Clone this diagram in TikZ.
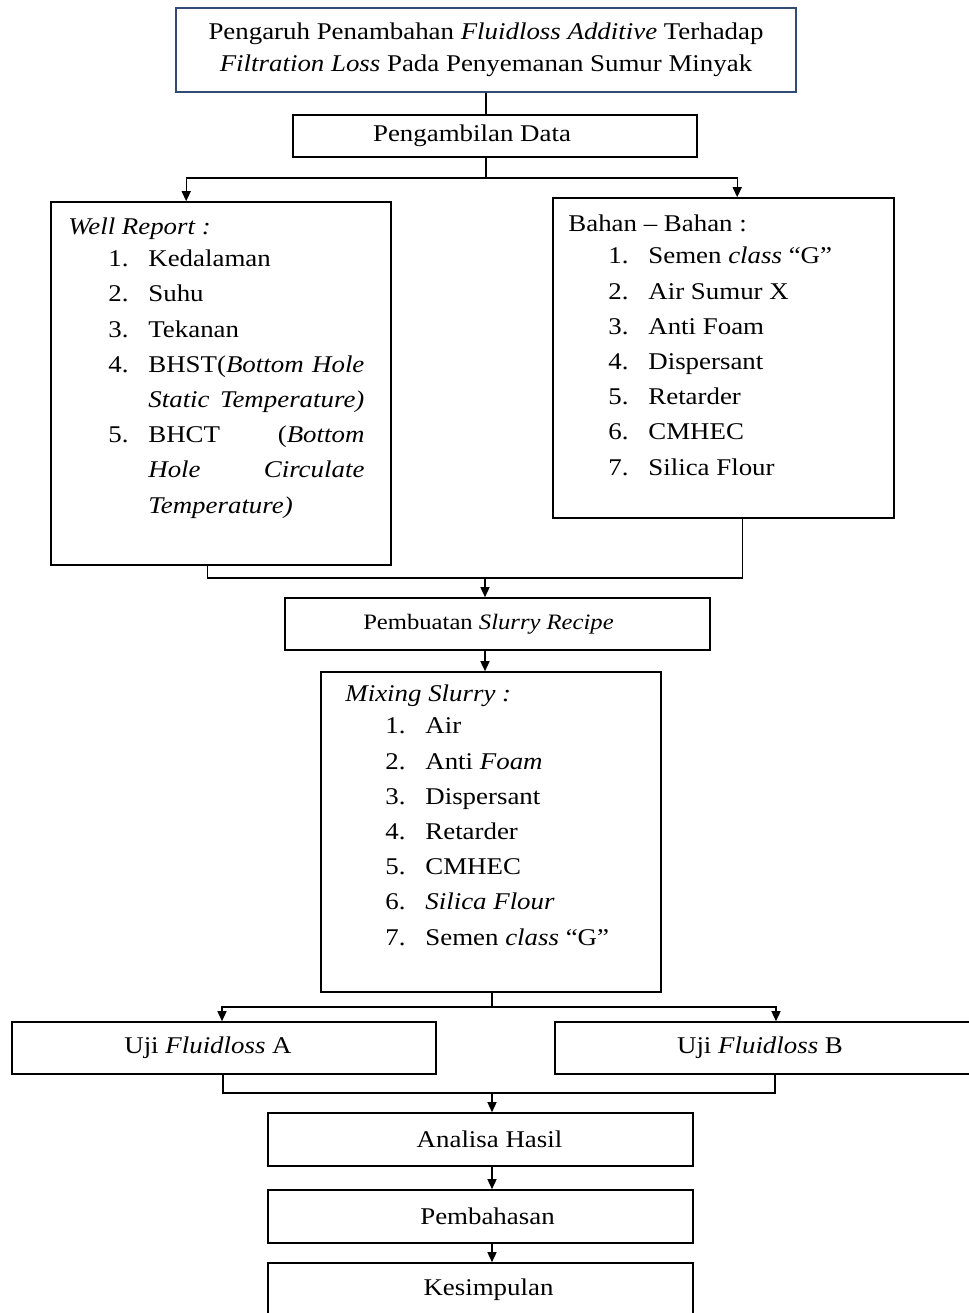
\documentclass[tikz,border=0pt]{standalone}
\usepackage{fontspec}
\setmainfont{Liberation Serif}[FakeStretch=1.12]
\usetikzlibrary{positioning, arrows.meta, calc}
\definecolor{judulbiru}{RGB}{50,75,115}

\newcommand{\nomor}[2]{\hspace*{20pt}\makebox[20pt][l]{#1}#2}
\newcommand{\lanjut}[1]{\hspace*{40pt}#1}

\begin{document}
\begin{tikzpicture}[x=0.5pt, y=-0.5pt, font=\fontsize{12}{14}\selectfont,
    kotak/.style={draw, line width=0.8pt, inner sep=0pt},
    isi/.style={anchor=base west, align=left, inner sep=0pt, font=\fontsize{12}{17.6}\selectfont},
    garis/.style={line width=0.7pt},
    panah/.style={garis, -{Triangle[length=5pt, width=4.5pt]}}]
        \clip (0,0) rectangle (969,1313);
        % judul dan data
        \node[kotak, draw=judulbiru, minimum width=310pt, minimum height=42pt, align=center, font=\fontsize{12}{16}\selectfont] (judul) at (486,50)
          {Pengaruh Penambahan \textit{Fluidloss Additive} Terhadap\\ \textit{Filtration Loss} Pada Penyemanan Sumur Minyak};
        \node[kotak, minimum width=202pt, minimum height=21pt, label={[xshift=-11.5pt]center:Pengambilan Data}] (data) at (495,136) {};
        % well report dan bahan (titik = baris terakhir)
        \node[kotak, minimum width=170pt, minimum height=181.5pt] (well) at (221,383.5) {};
        \node[isi] (wellisi) at (68,513) {\textit{Well Report :}\\[-1.6pt]
          \nomor{1.}{Kedalaman}\\
          \nomor{2.}{Suhu}\\
          \nomor{3.}{Tekanan}\\
          \nomor{4.}{\makebox[108pt][s]{BHST(\textit{Bottom Hole}}}\\
          \lanjut{\makebox[108pt][s]{\textit{Static Temperature)}}}\\
          \nomor{5.}{\makebox[108pt][s]{BHCT (\textit{Bottom}}}\\
          \lanjut{\makebox[108pt][s]{\textit{Hole Circulate}}}\\
          \lanjut{\textit{Temperature)}}};
        \node[kotak, minimum width=170.5pt, minimum height=160pt] (bahan) at (723.5,358) {};
        \node[isi] (bahanisi) at (568,475) {Bahan – Bahan :\\[-1.6pt]
          \nomor{1.}{Semen \textit{class} “G”}\\
          \nomor{2.}{Air Sumur X}\\
          \nomor{3.}{Anti Foam}\\
          \nomor{4.}{Dispersant}\\
          \nomor{5.}{Retarder}\\
          \nomor{6.}{CMHEC}\\
          \nomor{7.}{Silica Flour}};
        % resep dan mixing
        \node[kotak, minimum width=212.5pt, minimum height=26pt,
          label={[xshift=-4.5pt, font=\fontsize{11}{12}\selectfont]center:Pembuatan \textit{Slurry Recipe}}] (resep) at (497.5,624) {};
        \node[kotak, minimum width=170pt, minimum height=160pt] (campur) at (491,832) {};
        \node[isi] (campurisi) at (345,945) {\textit{Mixing Slurry :}\\[-1.6pt]
          \nomor{1.}{Air}\\
          \nomor{2.}{Anti \textit{Foam}}\\
          \nomor{3.}{Dispersant}\\
          \nomor{4.}{Retarder}\\
          \nomor{5.}{CMHEC}\\
          \nomor{6.}{\textit{Silica Flour}}\\
          \nomor{7.}{Semen \textit{class} “G”}};
        % uji dan hasil
        \node[kotak, minimum width=212pt, minimum height=26pt, label={[xshift=-8pt]center:Uji \textit{Fluidloss} A}] (ujiA) at (224,1048) {};
        \node[kotak, minimum width=212pt, minimum height=26pt, label={[xshift=-3.5pt]center:Uji \textit{Fluidloss} B}] (ujiB) at (767,1048) {};
        \node[kotak, minimum width=212.5pt, minimum height=26.5pt, label={[xshift=4.5pt]center:Analisa Hasil}] (hasil) at (480.5,1139.5) {};
        \node[kotak, minimum width=212.5pt, minimum height=26.5pt, label={[xshift=3.5pt]center:Pembahasan}] (bahas) at (480.5,1216.5) {};
        \node[kotak, minimum width=212.5pt, minimum height=26.5pt, label={[xshift=4pt]center:Kesimpulan}] (simpul) at (480.5,1289.5) {};
        % garis penghubung
        \coordinate (cabang1) at (486,178);
        \coordinate (gabung1) at (485,578);
        \coordinate (cabang2) at (492,1007);
        \coordinate (gabung2) at (492,1093);
        \draw[garis] (judul.south) -- (judul.south |- data.north);
        \draw[garis] (judul.south |- data.south) -- (cabang1);
        \draw[panah] (cabang1) -| ([xshift=68pt]well.north west);
        \draw[panah] (cabang1) -| ([xshift=92.5pt]bahan.north west);
        \draw[garis] ([xshift=78.5pt]well.south west) |- (gabung1) -| ([xshift=95pt]bahan.south west);
        \draw[panah] (gabung1) -- (gabung1 |- resep.north);
        \draw[panah] (gabung1 |- resep.south) -- (gabung1 |- campur.north);
        \draw[garis] (cabang2 |- campur.south) -- (cabang2);
        \draw[panah] (cabang2) -| ([xshift=-1pt]ujiA.north);
        \draw[panah] (cabang2) -| ([xshift=4.5pt]ujiB.north);
        \draw[garis] ([xshift=-0.5pt]ujiA.south) |- (gabung2) -| ([xshift=4pt]ujiB.south);
        \draw[panah] (gabung2) -- (gabung2 |- hasil.north);
        \draw[panah] (gabung2 |- hasil.south) -- (gabung2 |- bahas.north);
        \draw[panah] (gabung2 |- bahas.south) -- (gabung2 |- simpul.north);
      \end{tikzpicture}
\end{document}
